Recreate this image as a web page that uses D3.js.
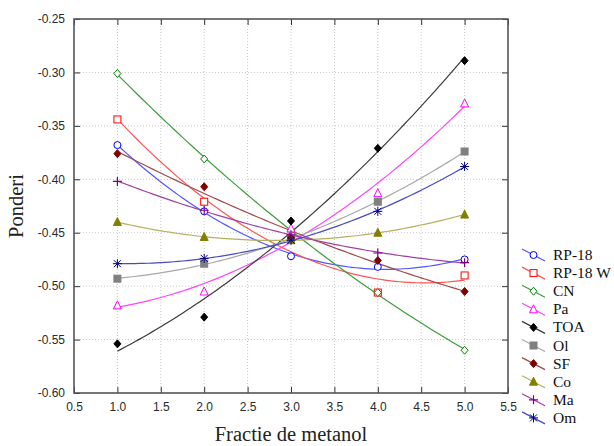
<!DOCTYPE html>
<html>
<head>
<meta charset="utf-8">
<script src="https://cdn.jsdelivr.net/npm/d3@7"></script>
<style>
  body { margin: 0; background: #fff; }
  svg { display: block; }
</style>
</head>
<body>
<div id="chart"></div>
<script>
// fractie de metanol
const xs = [1, 2, 3, 4, 5];
const names = ["RP-18", "RP-18 W", "CN", "Pa", "TOA", "Ol", "SF", "Co", "Ma", "Om"];
const rp18  = [-0.368, -0.430, -0.472, -0.482, -0.475];
const rp18w = [-0.344, -0.421, -0.456, -0.506, -0.490];
const cn    = [-0.301, -0.381, -0.448, -0.506, -0.560];
const pa    = [-0.518, -0.505, -0.446, -0.413, -0.329];
const toa   = [-0.554, -0.529, -0.439, -0.371, -0.289];
const ol    = [-0.493, -0.479, -0.456, -0.421, -0.374];
const sf    = [-0.376, -0.407, -0.455, -0.476, -0.505];
const co    = [-0.440, -0.454, -0.457, -0.450, -0.433];
const ma    = [-0.402, -0.429, -0.452, -0.469, -0.478];
const om    = [-0.479, -0.474, -0.457, -0.430, -0.388];
const xTicks = d3.range(0.5, 5.51, 0.5);
const yTicks = d3.range(-0.60, -0.249, 0.05);

const seriesValues = [rp18, rp18w, cn, pa, toa, ol, sf, co, ma, om];
const markerColor = ["#0000ff", "#ff0000", "#008000", "#ff00ff", "#000000", "#808080", "#800000", "#808000", "#800080", "#000080"];
const lineColor   = ["#5555ff", "#ff5555", "#3c9c3c", "#ff44ff", "#3a3a3a", "#a8a8a8", "#a04a4a", "#b4b060", "#a040a0", "#4a4ac0"];
const shapes = ["circle", "square", "diamond", "triangle", "diamondF", "squareF", "diamondF", "triangleF", "plus", "star"];

const width = 614, height = 446;
const margin = {top: 19, right: 106, bottom: 53, left: 74};

const svg = d3.select("#chart").append("svg")
    .attr("width", width)
    .attr("height", height);

const x = d3.scaleLinear().domain([0.5, 5.5]).range([margin.left, width - margin.right]);
const y = d3.scaleLinear().domain([-0.60, -0.25]).range([height - margin.bottom, margin.top]);

// grid
svg.append("g").selectAll("line").data(xTicks.slice(1, -1)).enter().append("line")
    .attr("x1", d => x(d)).attr("x2", d => x(d))
    .attr("y1", y(-0.60)).attr("y2", y(-0.25))
    .attr("stroke", "#c8c8c8").attr("stroke-dasharray", "1,2");
svg.append("g").selectAll("line").data(yTicks.slice(1, -1)).enter().append("line")
    .attr("x1", x(0.5)).attr("x2", x(5.5))
    .attr("y1", d => y(d)).attr("y2", d => y(d))
    .attr("stroke", "#c8c8c8").attr("stroke-dasharray", "1,2");

// axes with inward ticks
function tickAxis(axis, scale, major, minor, label) {
    let a = axis(scale).tickValues(major).tickSizeInner(-6).tickSizeOuter(0).tickPadding(label ? 9 : 0);
    a = label ? a.tickFormat(label) : a.tickFormat("");
    return a;
}
const minorX = d3.range(0.5, 5.51, 0.1);
const minorY = d3.range(-0.60, -0.249, 0.01);
const axes = [
    [d3.axisBottom, x, xTicks, minorX, d3.format(".1f"), `translate(0,${y(-0.60)})`],
    [d3.axisTop, x, xTicks, minorX, null, `translate(0,${y(-0.25)})`],
    [d3.axisLeft, y, yTicks, minorY, d3.format(".2f"), `translate(${x(0.5)},0)`],
    [d3.axisRight, y, yTicks, minorY, null, `translate(${x(5.5)},0)`]
];
axes.forEach(([ax, sc, major, minor, fmt, tr]) => {
    const g = svg.append("g").attr("transform", tr);
    g.call(ax(sc).tickValues(minor).tickSizeInner(-3).tickSizeOuter(0).tickFormat(""));
    g.call(tickAxis(ax, sc, major, minor, fmt));
    g.select(".domain").remove();
    g.selectAll("line").attr("stroke", "#333");
    g.selectAll("text").attr("font-family", "Liberation Sans, Arial").attr("font-size", 12).attr("fill", "#2a2a2a")
        .text(function() { return this.textContent.replace("\u2212", "-"); });
});
svg.append("rect")
    .attr("x", x(0.5)).attr("y", y(-0.25))
    .attr("width", x(5.5) - x(0.5)).attr("height", y(-0.60) - y(-0.25))
    .attr("fill", "none").attr("stroke", "#555").attr("stroke-width", 1.6);

// quadratic least squares fit
function quadFit(xv, yv) {
    const n = xv.length;
    let s = [0, 0, 0, 0, 0], t = [0, 0, 0];
    for (let i = 0; i < n; i++) {
        for (let k = 0; k < 5; k++) s[k] += Math.pow(xv[i], k);
        for (let k = 0; k < 3; k++) t[k] += yv[i] * Math.pow(xv[i], k);
    }
    const M = [[s[0], s[1], s[2], t[0]], [s[1], s[2], s[3], t[1]], [s[2], s[3], s[4], t[2]]];
    for (let i = 0; i < 3; i++) {
        for (let j = i + 1; j < 3; j++) {
            const f = M[j][i] / M[i][i];
            for (let k = i; k < 4; k++) M[j][k] -= f * M[i][k];
        }
    }
    const c = [0, 0, 0];
    for (let i = 2; i >= 0; i--) {
        let v = M[i][3];
        for (let k = i + 1; k < 3; k++) v -= M[i][k] * c[k];
        c[i] = v / M[i][i];
    }
    return xx => c[0] + c[1] * xx + c[2] * xx * xx;
}

const line = d3.line().x(d => x(d[0])).y(d => y(d[1]));
const xFine = d3.range(1, 5.001, 0.05);

function marker(g, shape, color) {
    const r = 3.5;
    if (shape === "circle") g.append("circle").attr("r", r).attr("fill", "#fff").attr("stroke", color);
    else if (shape.startsWith("square")) g.append("rect").attr("x", -r).attr("y", -r).attr("width", 2 * r).attr("height", 2 * r)
        .attr("fill", shape === "squareF" ? color : "#fff").attr("stroke", color);
    else if (shape.startsWith("diamond")) g.append("path").attr("d", `M0,${-r - 0.5}L${r},0L0,${r + 0.5}L${-r},0Z`)
        .attr("fill", shape === "diamondF" ? color : "#fff").attr("stroke", color);
    else if (shape.startsWith("triangle")) g.append("path").attr("d", `M0,${-r - 1}L${r + 0.5},${r}L${-r - 0.5},${r}Z`)
        .attr("fill", shape === "triangleF" ? color : "#fff").attr("stroke", color);
    else if (shape === "plus") g.append("path").attr("d", `M${-r - 1},0H${r + 1}M0,${-r - 1}V${r + 1}`).attr("stroke", color).attr("stroke-width", 1.2);
    else if (shape === "star") g.append("path")
        .attr("d", `M${-r - 1},0H${r + 1}M0,${-r - 1}V${r + 1}M${-r},${-r}L${r},${r}M${-r},${r}L${r},${-r}`)
        .attr("stroke", color).attr("stroke-width", 1);
}

seriesValues.forEach((vals, i) => {
    const f = quadFit(xs, vals);
    svg.append("path")
        .datum(xFine.map(d => [d, f(d)]))
        .attr("d", line)
        .attr("fill", "none")
        .attr("stroke", lineColor[i])
        .attr("stroke-width", 1.2);
});
seriesValues.forEach((vals, i) => {
    vals.forEach((v, j) => {
        const g = svg.append("g").attr("transform", `translate(${x(xs[j])},${y(v)})`);
        marker(g, shapes[i], markerColor[i]);
    });
});

// legend
const legend = svg.append("g").attr("transform", "translate(522,255)");
names.forEach((nm, i) => {
    const g = legend.append("g").attr("transform", `translate(0,${i * 18.1})`);
    g.append("line").attr("x1", 0).attr("y1", -6).attr("x2", 23).attr("y2", 6)
        .attr("stroke", lineColor[i]).attr("stroke-width", 1.2);
    const m = g.append("g").attr("transform", "translate(11.5,0)");
    marker(m, shapes[i], markerColor[i]);
    g.append("text").attr("x", 31).attr("y", 5)
        .attr("font-family", "Liberation Serif, Times New Roman").attr("font-size", 15.5)
        .attr("fill", "#111").text(nm);
});

// axis titles
svg.append("text")
    .attr("x", x(3)).attr("y", 441)
    .attr("text-anchor", "middle")
    .attr("font-family", "Liberation Serif, Times New Roman").attr("font-size", 20.5)
    .attr("fill", "#222").text("Fractie de metanol");
svg.append("text")
    .attr("transform", `translate(23,${y(-0.425)}) rotate(-90)`)
    .attr("text-anchor", "middle")
    .attr("font-family", "Liberation Serif, Times New Roman").attr("font-size", 20.5)
    .attr("fill", "#222").text("Ponderi");
</script>
</body>
</html>
